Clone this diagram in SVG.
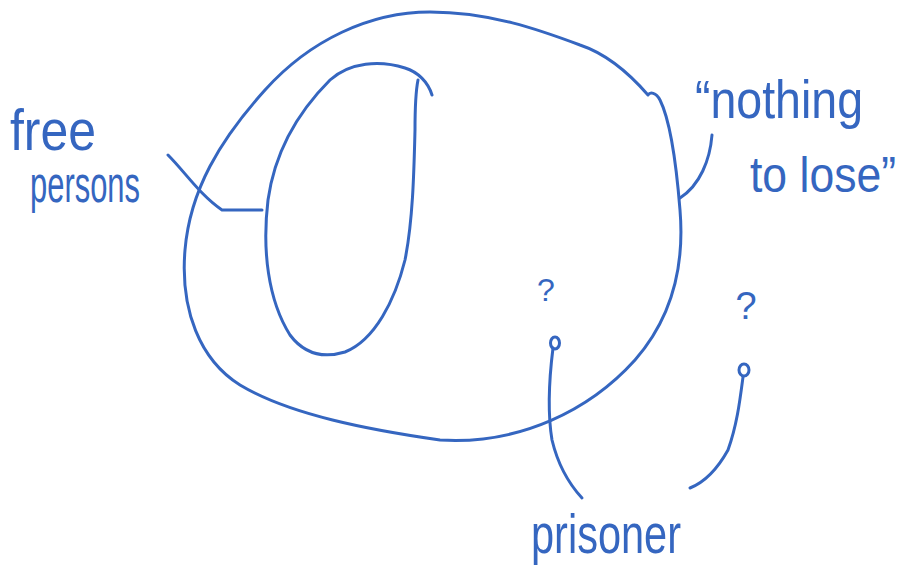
<svg xmlns="http://www.w3.org/2000/svg" width="917" height="581" viewBox="0 0 917 581">
<style>
.ln{fill:none;stroke:#3566c0;stroke-width:3;stroke-linecap:round;stroke-linejoin:round}
.tx{fill:#3566c0;font-family:"Liberation Sans",Arial,sans-serif;font-weight:normal}
</style>
<rect width="917" height="581" fill="#ffffff"/>
<g id="outer">
<path class="ln" d="M648,95 C635,80 610,55 580,45 C540,30 490,12 430,12 C370,12 310,40 265,90 C220,140 190,190 185,250 C180,310 200,360 240,385 C290,415 370,430 440,440 C520,445 590,410 635,360 C670,320 685,270 680,210 C676,160 670,120 660,100 C656,92 650,92 648,95"/>
</g>
<g id="inner">
<path class="ln" d="M432,95 C428,82 418,72 405,68 C380,60 350,62 330,80 C300,110 275,150 268,200 C262,250 268,300 290,335 C305,355 325,358 345,352 C375,340 395,300 405,260 C413,220 414,170 415,130 C415,110 416,90 418,80"/>
</g>
<g id="qmark1"><text class="tx" x="546" y="301" font-size="32" text-anchor="middle">?</text></g>
<g id="qmark2"><text class="tx" x="746" y="319" font-size="38" text-anchor="middle">?</text></g>
<g id="dot1"><ellipse class="ln" cx="555" cy="343" rx="4.5" ry="6"/></g>
<g id="dot2"><ellipse class="ln" cx="744" cy="370" rx="5" ry="6"/></g>
<g id="label-free"><text class="tx" x="10" y="150" font-size="58" textLength="86" lengthAdjust="spacingAndGlyphs">free</text>
<text class="tx" x="30" y="202" font-size="52" textLength="110" lengthAdjust="spacingAndGlyphs">persons</text></g>
<g id="label-nothing"><text class="tx" x="695" y="118" font-size="54" textLength="168" lengthAdjust="spacingAndGlyphs">“nothing</text>
<text class="tx" x="750" y="192" font-size="50" textLength="146" lengthAdjust="spacingAndGlyphs">to lose”</text></g>
<g id="label-prisoner"><text class="tx" x="531" y="553" font-size="56" textLength="150" lengthAdjust="spacingAndGlyphs">prisoner</text></g>
<g id="connectors">
<path class="ln" d="M168,155 C185,172 200,195 222,210 L262,210"/>
<path class="ln" d="M712,135 C710,160 700,185 680,198"/>
<path class="ln" d="M553,348 C549,380 547,410 552,440 C558,465 570,485 582,498"/>
<path class="ln" d="M743,377 C740,400 737,425 728,450 C718,468 705,482 690,488"/>
</g>
</svg>
